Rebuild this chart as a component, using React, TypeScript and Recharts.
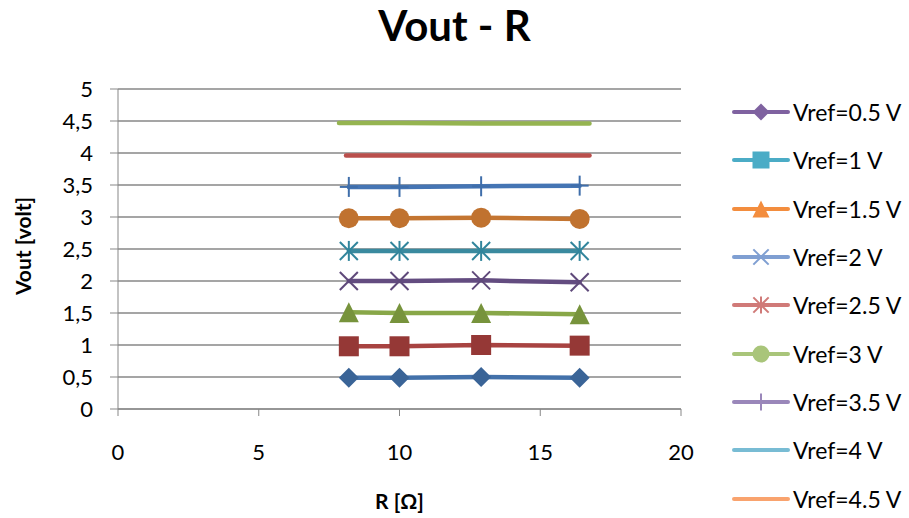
import React from 'react';
import { LineChart, Line, XAxis, YAxis, CartesianGrid, Label } from 'recharts';

// resistance values (Ω) where the output voltage was measured
const rPoints = [8.2, 10, 12.9, 16.4];
const rPoints4 = [8.1, 10, 12.9, 16.75];
const rPoints45 = [7.85, 10, 12.9, 16.75];

// measured Vout per reference voltage
const vout05 = [0.49, 0.49, 0.5, 0.49];
const vout1 = [0.98, 0.98, 1.0, 0.99];
const vout15 = [1.51, 1.5, 1.5, 1.48];
const vout2 = [2.0, 2.0, 2.01, 1.98];
const vout25 = [2.47, 2.47, 2.47, 2.47];
const vout3 = [2.98, 2.98, 2.99, 2.97];
const vout35 = [3.47, 3.47, 3.48, 3.49];
const vout4 = [3.96, 3.96, 3.96, 3.96];
const vout45 = [4.47, 4.47, 4.46, 4.46];

const xTicks = [0, 5, 10, 15, 20];
const yTicks = [0, 0.5, 1, 1.5, 2, 2.5, 3, 3.5, 4, 4.5, 5];

type Shape = 'diamond' | 'square' | 'triangle' | 'x' | 'star' | 'circle' | 'plus' | 'none';

interface SeriesDef {
  name: string;
  xs: number[];
  ys: number[];
  shape: Shape;
  line: string;
  marker: string;
  legend: string;
}

const series: SeriesDef[] = [
  { name: 'Vref=0.5 V', xs: rPoints, ys: vout05, shape: 'diamond', line: '#4371AA', marker: '#3A6497', legend: '#7F62A0' },
  { name: 'Vref=1 V', xs: rPoints, ys: vout1, shape: 'square', line: '#A84341', marker: '#953836', legend: '#4BACC6' },
  { name: 'Vref=1.5 V', xs: rPoints, ys: vout15, shape: 'triangle', line: '#88A748', marker: '#77933C', legend: '#F38D3E' },
  { name: 'Vref=2 V', xs: rPoints, ys: vout2, shape: 'x', line: '#634C80', marker: '#5F497A', legend: '#7F9FD2' },
  { name: 'Vref=2.5 V', xs: rPoints, ys: vout25, shape: 'star', line: '#3A8A9F', marker: '#31859C', legend: '#D07A78' },
  { name: 'Vref=3 V', xs: rPoints, ys: vout3, shape: 'circle', line: '#C47531', marker: '#C0722F', legend: '#A9C57A' },
  { name: 'Vref=3.5 V', xs: rPoints, ys: vout35, shape: 'plus', line: '#4575B4', marker: '#3F6EAA', legend: '#9A87BA' },
  { name: 'Vref=4 V', xs: rPoints4, ys: vout4, shape: 'none', line: '#BA4F4C', marker: '#BA4F4C', legend: '#78BCD4' },
  { name: 'Vref=4.5 V', xs: rPoints45, ys: vout45, shape: 'none', line: '#95B450', marker: '#95B450', legend: '#F9A36E' },
];

const FONT = 'Lato, "Noto Sans", sans-serif';
const AXIS = '#878787';

function Marker({ shape, cx, cy, color, s = 1 }: { shape: Shape; cx: number; cy: number; color: string; s?: number }) {
  const h = 10 * s;
  switch (shape) {
    case 'diamond':
      return <polygon points={`${cx},${cy - h} ${cx + h},${cy} ${cx},${cy + h} ${cx - h},${cy}`} fill={color} />;
    case 'square':
      return <rect x={cx - h} y={cy - h} width={2 * h} height={2 * h} fill={color} />;
    case 'triangle':
      return <polygon points={`${cx},${cy - h} ${cx + h},${cy + h} ${cx - h},${cy + h}`} fill={color} />;
    case 'x':
      return (
        <g stroke={color} strokeWidth={2}>
          <line x1={cx - 9 * s} y1={cy - 9 * s} x2={cx + 9 * s} y2={cy + 9 * s} />
          <line x1={cx - 9 * s} y1={cy + 9 * s} x2={cx + 9 * s} y2={cy - 9 * s} />
        </g>
      );
    case 'star':
      return (
        <g stroke={color} strokeWidth={2}>
          <line x1={cx - 9 * s} y1={cy - 9 * s} x2={cx + 9 * s} y2={cy + 9 * s} />
          <line x1={cx - 9 * s} y1={cy + 9 * s} x2={cx + 9 * s} y2={cy - 9 * s} />
          <line x1={cx} y1={cy - 10 * s} x2={cx} y2={cy + 10 * s} />
        </g>
      );
    case 'circle':
      return <circle cx={cx} cy={cy} r={h} fill={color} />;
    case 'plus':
      return (
        <g stroke={color} strokeWidth={2}>
          <line x1={cx} y1={cy - 10 * s} x2={cx} y2={cy + 10 * s} />
          <line x1={cx - 9 * s} y1={cy} x2={cx + 9 * s} y2={cy} />
        </g>
      );
    default:
      return null;
  }
}

function ChartLegend() {
  return (
    <div style={{ position: 'absolute', left: 731, top: 88 }}>
      {series.map((s) => (
        <div key={s.name} style={{ display: 'flex', alignItems: 'center', height: 48.3 }}>
          <svg width={60} height={24} style={{ overflow: 'visible' }}>
            <line x1={3} y1={12} x2={57} y2={12} stroke={s.legend} strokeWidth={4} strokeLinecap="round" />
            <Marker shape={s.shape} cx={30} cy={12} color={s.legend} s={0.85} />
          </svg>
          <span style={{ fontFamily: FONT, fontSize: 23, color: '#000', marginLeft: 2 }}>{s.name}</span>
        </div>
      ))}
    </div>
  );
}

export default function App() {
  return (
    <div style={{ position: 'absolute', left: 0, top: 0, width: 909, height: 518, background: '#fff' }}>
      <div
        style={{
          position: 'absolute',
          left: 0,
          width: 909,
          top: 0,
          textAlign: 'center',
          fontFamily: FONT,
          fontWeight: 700,
          fontSize: 42,
          color: '#000',
        }}
      >
        Vout - R
      </div>
      <LineChart width={909} height={518} margin={{ top: 89, right: 228, bottom: 0, left: 0 }}>
        <CartesianGrid vertical={false} stroke={AXIS} strokeWidth={1.3} />
        <XAxis
          type="number"
          dataKey="x"
          domain={[0, 20]}
          ticks={xTicks}
          height={109}
          stroke={AXIS}
          tickSize={7}
          tickMargin={28}
          tick={{ fill: '#000', fontSize: 22, fontFamily: FONT }}
          allowDuplicatedCategory={false}
        >
          <Label
            content={({ viewBox }: any) => (
              <text
                x={viewBox.x + viewBox.width / 2}
                y={viewBox.y + 91}
                textAnchor="middle"
                dominantBaseline="central"
                fontFamily={FONT}
                fontWeight={700}
                fontSize={21}
                fill="#000"
              >
                R [Ω]
              </text>
            )}
          />
        </XAxis>
        <YAxis
          type="number"
          domain={[0, 5]}
          ticks={yTicks}
          width={118}
          stroke={AXIS}
          tickSize={8}
          tickMargin={17}
          tickFormatter={(v: number) => String(v).replace('.', ',')}
          tick={{ fill: '#000', fontSize: 22, fontFamily: FONT }}
        >
          <Label
            content={({ viewBox }: any) => {
              const cx = 22;
              const cy = viewBox.y + viewBox.height / 2 - 3;
              return (
                <text
                  x={cx}
                  y={cy}
                  transform={`rotate(-90 ${cx} ${cy})`}
                  textAnchor="middle"
                  dominantBaseline="central"
                  fontFamily={FONT}
                  fontWeight={700}
                  fontSize={21}
                  fill="#000"
                >
                  Vout [volt]
                </text>
              );
            }}
          />
        </YAxis>
        {series.map((s) => (
          <Line
            key={s.name}
            name={s.name}
            data={s.xs.map((x, i) => ({ x, y: s.ys[i] }))}
            dataKey="y"
            type="linear"
            stroke={s.line}
            strokeWidth={4.5}
            strokeLinecap="round"
            isAnimationActive={false}
            activeDot={false}
            dot={(p: any) => (
              <Marker key={`${s.name}-${p.index}`} shape={s.shape} cx={p.cx} cy={p.cy} color={s.marker} />
            )}
          />
        ))}
      </LineChart>
      <ChartLegend />
    </div>
  );
}
